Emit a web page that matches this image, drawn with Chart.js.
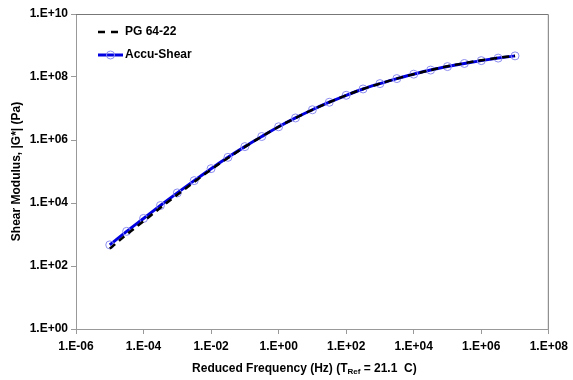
<!DOCTYPE html>
<html>
<head>
<meta charset="utf-8">
<script src="https://cdn.jsdelivr.net/npm/chart.js@4/dist/chart.umd.min.js"></script>
<style>
  html, body { margin: 0; padding: 0; background: #fff; }
  #chart { display: block; }
</style>
</head>
<body>
<canvas id="chart" width="573" height="380"></canvas>
<script>
// half-decade steps
const frequency = [
    1e-5, 3.16e-5, 1e-4, 3.16e-4, 1e-3, 3.16e-3, 1e-2, 3.16e-2, 1e-1, 3.16e-1,
    1, 3.16, 10, 31.6, 100, 316, 1e3, 3.16e3, 1e4, 3.16e4,
    1e5, 3.16e5, 1e6, 3.16e6, 1e7,
];
const accuShear = [
    468, 1259, 3236, 8318, 20893, 51286, 123027, 281838, 616595, 1.29e6,
    2.63e6, 5.01e6, 9.12e6, 1.58e7, 2.63e7, 4.17e7, 6.17e7, 8.91e7, 1.23e8, 1.66e8,
    2.14e8, 2.69e8, 3.31e8, 3.98e8, 4.68e8,
];
const pg6422 = [
    355, 1000, 2630, 7080, 18200, 46800, 115000, 269000, 603000, 1.29e6,
    2.63e6, 5.01e6, 9.12e6, 1.58e7, 2.63e7, 4.17e7, 6.17e7, 8.91e7, 1.23e8, 1.66e8,
    2.19e8, 2.75e8, 3.39e8, 4.07e8, 4.68e8,
];
const xTicks = [1e-6, 1e-4, 1e-2, 1, 1e2, 1e4, 1e6, 1e8];
const xTickLabels = ['1.E-06', '1.E-04', '1.E-02', '1.E+00', '1.E+02', '1.E+04', '1.E+06', '1.E+08'];
const yTicks = [1, 1e2, 1e4, 1e6, 1e8, 1e10];
const yTickLabels = ['1.E+00', '1.E+02', '1.E+04', '1.E+06', '1.E+08', '1.E+10'];
const seriesNames = ['PG 64-22', 'Accu-Shear'];

const FONT = 'Liberation Sans, Arial, sans-serif';

const points = (xs, ys) => xs.map((x, i) => ({ x: x, y: ys[i] }));

// frame, legend and axis titles
const extras = {
    id: 'extras',
    afterDraw(chart) {
        const ctx = chart.ctx;
        const a = chart.chartArea;
        ctx.save();

        // top + right border of plot area
        ctx.strokeStyle = '#777';
        ctx.lineWidth = 1;
        ctx.beginPath();
        ctx.moveTo(a.left, a.top + 0.5);
        ctx.lineTo(a.right - 0.5, a.top + 0.5);
        ctx.lineTo(a.right - 0.5, a.bottom);
        ctx.stroke();

        // legend
        ctx.font = 'bold 12px ' + FONT;
        ctx.textBaseline = 'middle';
        ctx.fillStyle = '#000';
        ctx.strokeStyle = '#000';
        ctx.lineWidth = 2.5;
        ctx.setLineDash([7, 6]);
        ctx.beginPath();
        ctx.moveTo(98, 32);
        ctx.lineTo(121, 32);
        ctx.stroke();
        ctx.setLineDash([]);
        ctx.fillText(seriesNames[0], 125, 32);

        ctx.strokeStyle = '#0000e0';
        ctx.lineWidth = 3;
        ctx.beginPath();
        ctx.moveTo(98, 55);
        ctx.lineTo(123, 55);
        ctx.stroke();
        ctx.strokeStyle = '#8c8cf0';
        ctx.lineWidth = 1;
        ctx.beginPath();
        ctx.arc(110.5, 55, 4, 0, Math.PI * 2);
        ctx.stroke();
        ctx.fillText(seriesNames[1], 125, 55);

        // x title with subscript
        ctx.font = 'bold 12px ' + FONT;
        const sub = 'bold 8px ' + FONT;
        const p1 = 'Reduced Frequency (Hz) (T';
        const p2 = 'Ref';
        const p3 = ' = 21.1  C)';
        const w1 = ctx.measureText(p1).width;
        const w3 = ctx.measureText(p3).width;
        ctx.font = sub;
        const w2 = ctx.measureText(p2).width;
        let x = (a.left + a.right) / 2 - (w1 + w2 + w3) / 2 - 8;
        const y = 369;
        ctx.textAlign = 'left';
        ctx.font = 'bold 12px ' + FONT;
        ctx.fillText(p1, x, y);
        x += w1;
        ctx.font = sub;
        ctx.fillText(p2, x, y + 3);
        x += w2;
        ctx.font = 'bold 12px ' + FONT;
        ctx.fillText(p3, x, y);

        // y title
        ctx.translate(17, (a.top + a.bottom) / 2);
        ctx.rotate(-Math.PI / 2);
        ctx.textAlign = 'center';
        ctx.fillText('Shear Modulus, |G*| (Pa)', 0, 0);

        ctx.restore();
    },
};

new Chart(document.querySelector('#chart'), {
    type: 'scatter',
    data: {
        datasets: [
            {
                label: seriesNames[0],
                data: points(frequency, pg6422),
                showLine: true,
                borderColor: '#000',
                borderWidth: 2.5,
                borderDash: [7, 5],
                pointRadius: 0,
                cubicInterpolationMode: 'monotone',
                order: 0,
            },
            {
                label: seriesNames[1],
                data: points(frequency, accuShear),
                showLine: true,
                borderColor: '#0000e0',
                borderWidth: 3,
                pointRadius: 4,
                pointBorderWidth: 1,
                pointBorderColor: '#8c8cf0',
                pointBackgroundColor: 'rgba(0,0,0,0)',
                cubicInterpolationMode: 'monotone',
                order: 1,
            },
        ],
    },
    options: {
        responsive: false,
        animation: false,
        layout: { padding: { top: 14, right: 20, left: 0, bottom: 0 } },
        plugins: {
            legend: { display: false },
            tooltip: { enabled: false },
        },
        scales: {
            x: {
                type: 'logarithmic',
                min: 1e-6,
                max: 1e8,
                afterBuildTicks: s => { s.ticks = xTicks.map(v => ({ value: v })); },
                afterFit: s => { s.height = 51; },
                ticks: {
                    autoSkip: false,
                    maxRotation: 0,
                    padding: 5,
                    color: '#000',
                    font: { family: FONT, size: 12, weight: 'bold' },
                    callback: (v, i) => xTickLabels[i],
                },
                grid: { drawOnChartArea: false, drawTicks: true, tickLength: 5, color: '#999' },
                border: { color: '#999' },
            },
            y: {
                type: 'logarithmic',
                min: 1,
                max: 1e10,
                afterBuildTicks: s => { s.ticks = yTicks.map(v => ({ value: v })); },
                afterFit: s => { s.width = 76; },
                ticks: {
                    autoSkip: false,
                    padding: 3,
                    color: '#000',
                    font: { family: FONT, size: 12, weight: 'bold' },
                    callback: (v, i) => yTickLabels[i],
                },
                grid: { drawOnChartArea: false, drawTicks: true, tickLength: 5, color: '#999' },
                border: { color: '#999' },
            },
        },
    },
    plugins: [extras],
});
</script>
</body>
</html>
